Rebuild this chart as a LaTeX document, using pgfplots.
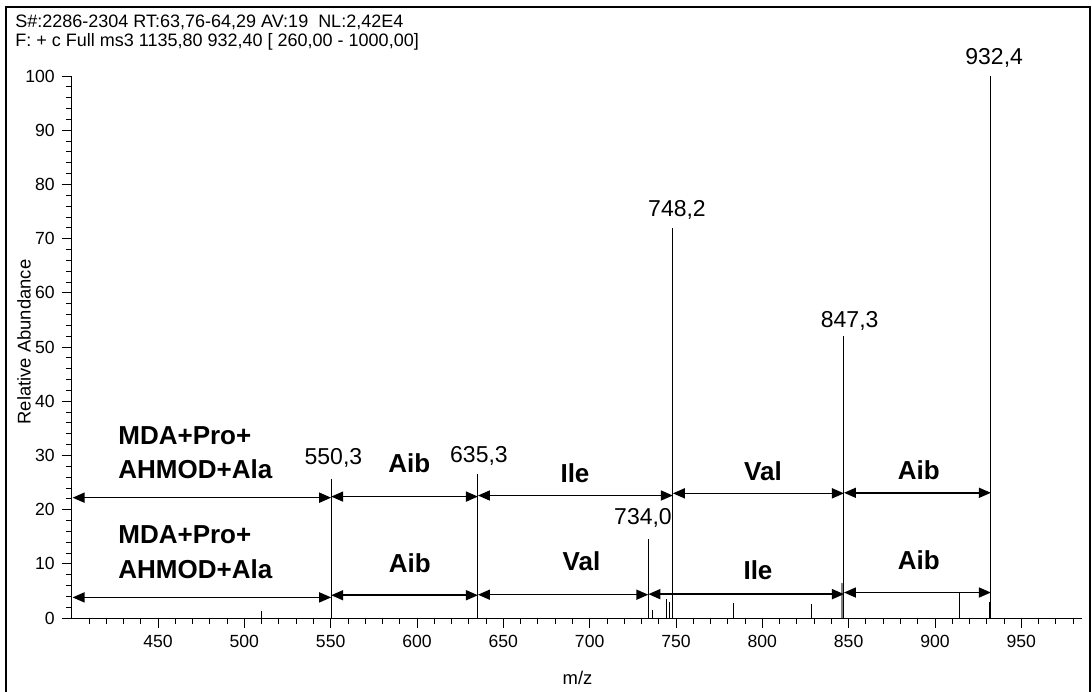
\documentclass[border=0pt]{standalone}
\usepackage{pgfplots}
\pgfplotsset{compat=1.18}
\usepackage{fontspec}
\setmainfont{Liberation Sans}
\usetikzlibrary{arrows.meta}

\begin{document}
\begin{tikzpicture}[x=1pt,y=1pt]
\useasboundingbox (-35.85,-36.5) rectangle (510.15,309);
\draw[line width=0.6pt] (-32.85,-40) -- (-32.85,305.5) -- (509.15,305.5) -- (509.15,-40);
\node[anchor=base west, font=\fontsize{9}{10.8}\selectfont, inner sep=0] at (-28.35,295) {S\#:2286-2304 RT:63,76-64,29 AV:19\ \ NL:2,42E4};
\node[anchor=base west, font=\fontsize{9}{10.8}\selectfont, inner sep=0] at (-28.35,285.5) {F: + c Full ms3 1135,80 932,40 [ 260,00 - 1000,00]};
\node[rotate=90, font=\fontsize{9.2}{11}\selectfont] at (-23.85,138) {Relative Abundance};
\node[font=\fontsize{9.2}{11}\selectfont] at (252.9,-30) {m/z};

\begin{axis}[
  at={(0,0)}, anchor=south west, scale only axis,
  width=505pt, height=271pt,
  xmin=400, xmax=985, ymin=0, ymax=100,
  axis x line=bottom, axis y line=left,
  axis line style={-, line width=0.5pt},
  tick align=outside,
  major tick length=5pt, minor tick length=2.8pt,
  every tick/.style={black, line width=0.4pt},
  xtick={450,500,...,950}, minor xtick={410,420,...,980},
  ytick={0,10,...,100}, minor ytick={2,4,...,98},
  tick label style={font=\fontsize{8.8}{10.5}\selectfont},
  /pgf/number format/assume math mode=true,
  clip=false,
]
\addplot+[ycomb, no marks, black, line width=0.5pt] coordinates {
 (510,1.2) (550.3,25.7) (635.3,26.5) (734.0,14.6) (736.5,1.5)
 (744.3,3.5) (746.0,3.0) (748.2,72.0) (783.2,2.8) (828.7,2.6)
 (847.3,52.1) (914.0,4.6) (931.5,3.0) (932.4,100)
};
\addplot+[ycomb, no marks, gray, line width=1.2pt] coordinates {
 (846.2,6.5)
};
% upper row
\draw[{Triangle[length=6pt,width=5pt]}-{Triangle[length=6pt,width=5pt]}, line width=0.8pt] (400.5,22.2) -- (550.3,22.2);
\draw[{Triangle[length=6pt,width=5pt]}-{Triangle[length=6pt,width=5pt]}, line width=0.8pt] (550.3,22.4) -- (635.3,22.4);
\draw[{Triangle[length=6pt,width=5pt]}-{Triangle[length=6pt,width=5pt]}, line width=0.8pt] (635.3,22.6) -- (748.2,22.6);
\draw[{Triangle[length=6pt,width=5pt]}-{Triangle[length=6pt,width=5pt]}, line width=0.8pt] (748.2,23.0) -- (847.3,23.0);
\draw[{Triangle[length=6pt,width=5pt]}-{Triangle[length=6pt,width=5pt]}, line width=0.8pt] (847.3,23.1) -- (932.4,23.1);
% lower row
\draw[{Triangle[length=6pt,width=5pt]}-{Triangle[length=6pt,width=5pt]}, line width=0.8pt] (400.5,3.8) -- (550.3,3.8);
\draw[{Triangle[length=6pt,width=5pt]}-{Triangle[length=6pt,width=5pt]}, line width=0.8pt] (550.3,4.2) -- (635.3,4.2);
\draw[{Triangle[length=6pt,width=5pt]}-{Triangle[length=6pt,width=5pt]}, line width=0.8pt] (635.3,4.3) -- (734.0,4.3);
\draw[{Triangle[length=6pt,width=5pt]}-{Triangle[length=6pt,width=5pt]}, line width=0.8pt] (734.0,4.4) -- (847.3,4.4);
\draw[{Triangle[length=6pt,width=5pt]}-{Triangle[length=6pt,width=5pt]}, line width=0.8pt] (847.3,4.7) -- (932.4,4.7);
% bold labels
\node[anchor=west, align=left, inner sep=0, font=\bfseries\fontsize{13}{16.75}\selectfont] at (426.8,30.5) {MDA+Pro+\\AHMOD+Ala};
\node[anchor=west, align=left, inner sep=0, font=\bfseries\fontsize{13}{17.5}\selectfont] at (426.8,12.15) {MDA+Pro+\\AHMOD+Ala};
\node[font=\bfseries\fontsize{13}{15.6}\selectfont] at (595.5,28.6) {Aib};
\node[font=\bfseries\fontsize{13}{15.6}\selectfont] at (691.5,26.8) {Ile};
\node[font=\bfseries\fontsize{13}{15.6}\selectfont] at (800.4,27.1) {Val};
\node[font=\bfseries\fontsize{13}{15.6}\selectfont] at (890.7,27.3) {Aib};
\node[font=\bfseries\fontsize{13}{15.6}\selectfont] at (595.8,10.1) {Aib};
\node[font=\bfseries\fontsize{13}{15.6}\selectfont] at (695.3,10.4) {Val};
\node[font=\bfseries\fontsize{13}{15.6}\selectfont] at (797.5,8.9) {Ile};
\node[font=\bfseries\fontsize{13}{15.6}\selectfont] at (890.7,10.7) {Aib};
% peak labels
\node[font=\fontsize{11.5}{13.8}\selectfont] at (551.6,29.6) {550,3};
\node[font=\fontsize{11.5}{13.8}\selectfont] at (635.9,29.9) {635,3};
\node[font=\fontsize{11.5}{13.8}\selectfont] at (730.9,18.5) {734,0};
\node[font=\fontsize{11.5}{13.8}\selectfont] at (750.6,75.2) {748,2};
\node[font=\fontsize{11.5}{13.8}\selectfont] at (850.6,54.9) {847,3};
\node[font=\fontsize{11.5}{13.8}\selectfont] at (934.3,103.3) {932,4};
\end{axis}
\end{tikzpicture}
\end{document}
